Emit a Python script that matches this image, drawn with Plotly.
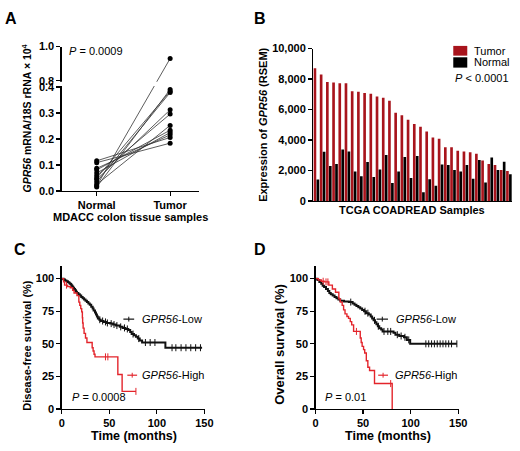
import numpy as np
import plotly.graph_objects as go

FONT = "Liberation Sans, Arial, sans-serif"
W, H = 520, 451

# ---------------- Panel A data ----------------
a_categories = ["Normal", "Tumor"]
a_normal = [0.116, 0.109, 0.087, 0.081, 0.069, 0.059, 0.050, 0.044, 0.034, 0.025, 0.019, 0.015]
a_tumor = [0.206, 0.184, 0.216, 0.234, 0.225, 0.296, 0.384, 0.3125, 0.379, 0.2525, 0.93, 0.391]
a_ticks = [0.0, 0.1, 0.2, 0.3, 0.4, 0.8, 1.0]
a_tick_labels = ["0.0", "0.1", "0.2", "0.3", "0.4", "0.8", "1.0"]

# ---------------- Panel B data ----------------
b_tumor = [8700, 8300, 7800, 7780, 7730, 7720, 7190, 7170, 7080, 7030, 6850, 6770, 6570,
           5780, 5630, 5330, 5050, 4870, 4560, 4170, 4080, 3520, 3520, 3290, 3250, 3200,
           3100, 2660, 2420, 2360, 2030, 1970]
b_normal = [1410, 3230, 2290, 2420, 3380, 3250, 1930, 1630, 2550, 1580, 2060, 3020, 1180,
            1930, 2890, 1500, 2950, 580, 1430, 1000, 2400, 2360, 2030, 1930, 2360, 1460,
            2680, 1220, 2850, 2030, 2570, 1760]
b_ticks = [0, 2000, 4000, 6000, 8000, 10000]

# ---------------- Panel C data (disease-free survival) ----------------
c_low_t = [0, 2, 3.5, 5, 6.5, 8, 9, 10, 11, 12, 13, 14, 15, 16, 17.5, 19, 20.5, 22, 23.5, 25,
           26.5, 28, 29.5, 31, 32.5, 33.5, 35, 36, 37, 38, 39.5, 41, 44, 47, 51, 54, 57, 61,
           64, 67, 70, 72, 73.5, 76, 78, 80, 82, 84.5, 109, 147.6]
c_low_s = [100, 99.3, 98.6, 97.9, 97.2, 96.5, 95.8, 95, 94, 93, 92, 91, 90, 89, 88, 87, 86,
           85, 84, 83, 82, 81, 80, 78.5, 77, 75.5, 74, 72.5, 71, 69.5, 68.5, 67.5, 66.8, 66,
           65.5, 64.8, 64, 63, 62.2, 61.4, 60.5, 59, 57.5, 56.5, 55.5, 54, 52.5, 51, 47, 47]
c_low_cens = [40, 43, 46, 48, 52, 55, 58, 62, 66, 69, 75, 81, 88, 93, 98, 116, 120, 125.5,
              130.6, 135.7, 140.8, 145.9]
c_high_t = [0, 2, 3, 6, 9, 11.5, 13, 16, 18, 19, 20, 21, 21.7, 22, 22.5, 23.5, 25, 26.5, 32,
            33, 34, 35, 59, 63.5, 78]
c_high_s = [100, 97.5, 95, 94, 93, 91, 89, 87, 82, 79.5, 77, 74.5, 70, 66, 62, 58, 54.5, 51,
            47, 44.5, 42, 40, 26.5, 13.5, 13.5]
c_high_cens = [5, 46, 48.5, 78]

# ---------------- Panel D data (overall survival) ----------------
d_low_t = [0, 2, 4, 6, 7.5, 9, 11, 13, 14.5, 16, 18, 20, 22, 24, 26, 30, 35, 39, 41, 43, 45,
           47, 49, 51, 53, 56, 58, 59.5, 61, 62.5, 64, 65.5, 67, 69, 70.5, 82, 84, 88, 93, 96,
           99.5, 148.6]
d_low_s = [100, 99, 97.5, 96, 94.5, 93.5, 92, 90.5, 89, 88, 87, 86, 85, 84, 83, 82.5, 82, 81,
           80, 79, 78, 77, 76, 75, 73.5, 72.5, 71, 69.5, 68, 66.5, 65, 63.5, 62, 61, 59.5,
           58.5, 57, 56, 55, 53, 50, 50]
d_low_cens = [37, 52, 55, 62, 66, 72, 76, 79, 86, 90, 94, 98, 116, 119, 122, 125, 128, 131,
              134, 137, 140, 143, 148.6]
d_high_t = [0, 3, 6, 9, 14, 17.7, 21, 24.5, 26, 28, 29.5, 31, 33, 34.7, 36.5, 38, 40, 47, 48,
            49, 50.5, 51.7, 53.4, 55, 56.8, 62, 80.6]
d_high_s = [100, 99, 98, 97.5, 95, 92, 89.5, 84.5, 82, 79.5, 76, 73, 71, 69.5, 67, 64.5, 59.5,
            54.5, 51, 48, 45.5, 43, 37, 32, 29.5, 19.5, 0]
d_high_cens = [8, 11, 13, 43, 79]

km_ticks_x = [0, 50, 100, 150]
km_ticks_y = [0, 25, 50, 75, 100]

# ---------------- styling ----------------
BLACK = "#111111"
RED = "#E3242B"
DARK_RED = "#A8141C"


def px_x(p):
    return p / W


def px_y(p):
    return 1 - p / H


# broken y axis transform for panel A (lower 0-0.4, upper 0.8-1.0 compressed)
GAP_START = 0.4
UPPER_BASE = 0.4248
UPPER_SCALE = 0.656


def a_disp(v):
    return v if v <= GAP_START else UPPER_BASE + (v - 0.8) * UPPER_SCALE


fig = go.Figure()

# Panel A: paired lines
seg_x, seg_y = [], []
for n, t in zip(a_normal, a_tumor):
    seg_x += [0, 1, None]
    seg_y += [a_disp(n), a_disp(t), None]
fig.add_trace(go.Scatter(x=seg_x, y=seg_y, mode="lines", line=dict(color="#333333", width=0.8),
                         xaxis="x", yaxis="y", hoverinfo="skip"))
fig.add_trace(go.Scatter(x=[0] * len(a_normal) + [1] * len(a_tumor),
                         y=[a_disp(v) for v in a_normal + a_tumor], mode="markers",
                         marker=dict(color="black", size=5), xaxis="x", yaxis="y"))

# Panel B: bars
idx = list(range(len(b_tumor)))
fig.add_trace(go.Bar(x=idx, y=b_tumor, marker=dict(color=DARK_RED, line=dict(width=0)),
                     xaxis="x2", yaxis="y2", name="Tumor"))
fig.add_trace(go.Bar(x=idx, y=b_normal, marker=dict(color="black", line=dict(width=0)),
                     xaxis="x2", yaxis="y2", name="Normal"))


def step_value(ts, ss, t):
    i = int(np.searchsorted(np.array(ts), t, side="right")) - 1
    return ss[max(i, 0)]


def add_km(ts, ss, cens, color, width, xa, ya):
    fig.add_trace(go.Scatter(x=ts, y=ss, mode="lines", line=dict(color=color, width=width, shape="hv"),
                             xaxis=xa, yaxis=ya))
    fig.add_trace(go.Scatter(x=cens, y=[step_value(ts, ss, c) for c in cens], mode="markers",
                             marker=dict(symbol="line-ns-open", size=5, color=color,
                                         line=dict(color=color, width=1)),
                             xaxis=xa, yaxis=ya))


add_km(c_low_t, c_low_s, c_low_cens, BLACK, 2, "x3", "y3")
add_km(c_high_t, c_high_s, c_high_cens, RED, 1.4, "x3", "y3")
add_km(d_low_t, d_low_s, d_low_cens, BLACK, 2, "x4", "y4")
add_km(d_high_t, d_high_s, d_high_cens, RED, 1.4, "x4", "y4")

tick_font = dict(family=FONT, size=11, color="black", weight="bold")
axis_common = dict(showline=True, linecolor="black", linewidth=1.3, ticks="outside", ticklen=4,
                   tickwidth=1.2, tickcolor="black", showgrid=False, zeroline=False,
                   tickfont=tick_font, fixedrange=True)

layout = dict(
    width=W, height=H, margin=dict(l=0, r=0, t=0, b=0), showlegend=False,
    paper_bgcolor="white", plot_bgcolor="white", font=dict(family=FONT, color="black"),
    barmode="group", bargap=0.05, bargroupgap=0.1,
    xaxis=dict(domain=[px_x(60), px_x(200)], range=[-0.476, 1.39], tickvals=[0, 1],
               ticktext=a_categories, anchor="y", **axis_common),
    yaxis=dict(domain=[px_y(190), px_y(41.7)], range=[0, a_disp(1.0)],
               tickvals=[a_disp(v) for v in a_ticks], ticktext=a_tick_labels, anchor="x",
               **axis_common),
    xaxis2=dict(domain=[px_x(317), 1.0], range=[-0.5, len(b_tumor) - 0.5], anchor="y2",
                showticklabels=False, **{k: v for k, v in axis_common.items() if k != "ticks"},
                ticks=""),
    yaxis2=dict(domain=[px_y(200.3), px_y(43.7)], range=[0, 10000], tickvals=b_ticks,
                tickformat=",d", anchor="x2", **axis_common),
    xaxis3=dict(domain=[px_x(60), px_x(206.7)], range=[0, 151], tickvals=km_ticks_x,
                anchor="y3", **axis_common),
    yaxis3=dict(domain=[px_y(414), px_y(266.7)], range=[0, 110], tickvals=km_ticks_y,
                anchor="x3", **axis_common),
    xaxis4=dict(domain=[px_x(319.3), px_x(466)], range=[0, 151], tickvals=km_ticks_x,
                anchor="y4", **axis_common),
    yaxis4=dict(domain=[px_y(414), px_y(266.7)], range=[0, 110], tickvals=km_ticks_y,
                anchor="x4", **axis_common),
)
fig.update_layout(**layout)

shapes = []
# axis break in panel A
shapes.append(dict(type="rect", xref="x domain", yref="y", x0=-0.06, x1=1.0,
                   y0=GAP_START + 0.004, y1=UPPER_BASE - 0.004,
                   fillcolor="white", line=dict(width=0), layer="above"))
# Panel B legend keys
shapes.append(dict(type="rect", xref="paper", yref="paper", x0=px_x(460), x1=px_x(474.3),
                   y0=px_y(51), y1=px_y(41), fillcolor=DARK_RED, line=dict(width=0)))
shapes.append(dict(type="rect", xref="paper", yref="paper", x0=px_x(460), x1=px_x(474.3),
                   y0=px_y(63.3), y1=px_y(52.7), fillcolor="black", line=dict(width=0)))
# KM legend keys (line with censor tick)
for x0, x1, yk, col in [(123, 134, 321.7, BLACK), (127, 137, 379.3, RED),
                        (381.7, 393.3, 321.7, BLACK), (383.3, 393.3, 379.3, RED)]:
    shapes.append(dict(type="line", xref="paper", yref="paper", x0=px_x(x0), x1=px_x(x1),
                       y0=px_y(yk), y1=px_y(yk), line=dict(color=col, width=1.2)))
    xm = (x0 + x1) / 2
    shapes.append(dict(type="line", xref="paper", yref="paper", x0=px_x(xm), x1=px_x(xm),
                       y0=px_y(yk - 2.5), y1=px_y(yk + 2.5), line=dict(color=col, width=1)))
fig.update_layout(shapes=shapes)

ann = []


def text(x, y, s, size=11, bold=False, xanchor="left", angle=0):
    ann.append(dict(x=px_x(x), y=px_y(y), xref="paper", yref="paper", text=s, showarrow=False,
                    xanchor=xanchor, yanchor="middle", textangle=angle,
                    font=dict(family=FONT, size=size, color="black",
                              weight="bold" if bold else "normal")))


# panel letters
text(8.3, 12.5, "A", 16, True, "center")
text(263, 12.5, "B", 16, True, "center")
text(17.5, 250, "C", 16, True, "center")
text(263, 250, "D", 16, True, "center")
# Panel A
text(65, 46.7, "<i>P</i> = 0.0009", 11)
text(24, 115, "<i>GPR56</i> mRNA/18S rRNA × 10<sup>4</sup>", 10.5, True, "center", -90)
text(130, 216.7, "MDACC colon tissue samples", 11, True, "center")
# Panel B
text(266, 121.7, "Expression of <i>GPR56</i> (RSEM)", 11, True, "center", -90)
text(418.3, 210, "TCGA COADREAD Samples", 11, True, "center")
text(479, 46.3, "Tumor", 11)
text(479, 58, "Normal", 11)
text(460, 74, "<i>P</i> < 0.0001", 11)
# Panel C
text(24.5, 348, "Disease-free survival (%)", 11, True, "center", -90)
text(134, 441.7, "Time (months)", 12.5, True, "center")
text(140, 321.7, "<i>GPR56</i>-Low", 11)
text(140, 379.3, "<i>GPR56</i>-High", 11)
text(68, 401.7, "<i>P</i> = 0.0008", 11)
# Panel D
text(282.5, 347.5, "Overall survival (%)", 13, True, "center", -90)
text(393, 441.7, "Time (months)", 12.5, True, "center")
text(399, 321.7, "<i>GPR56</i>-Low", 11)
text(398, 379.3, "<i>GPR56</i>-High", 11)
text(326.7, 401.7, "<i>P</i> = 0.01", 11)
fig.update_layout(annotations=ann)

fig.write_html(
    "out.html",
    config={"displayModeBar": False, "staticPlot": True},
    post_script=("document.body.style.margin='0px';"
                 "document.body.style.overflow='hidden';"
                 "document.documentElement.style.overflow='hidden';"),
)
